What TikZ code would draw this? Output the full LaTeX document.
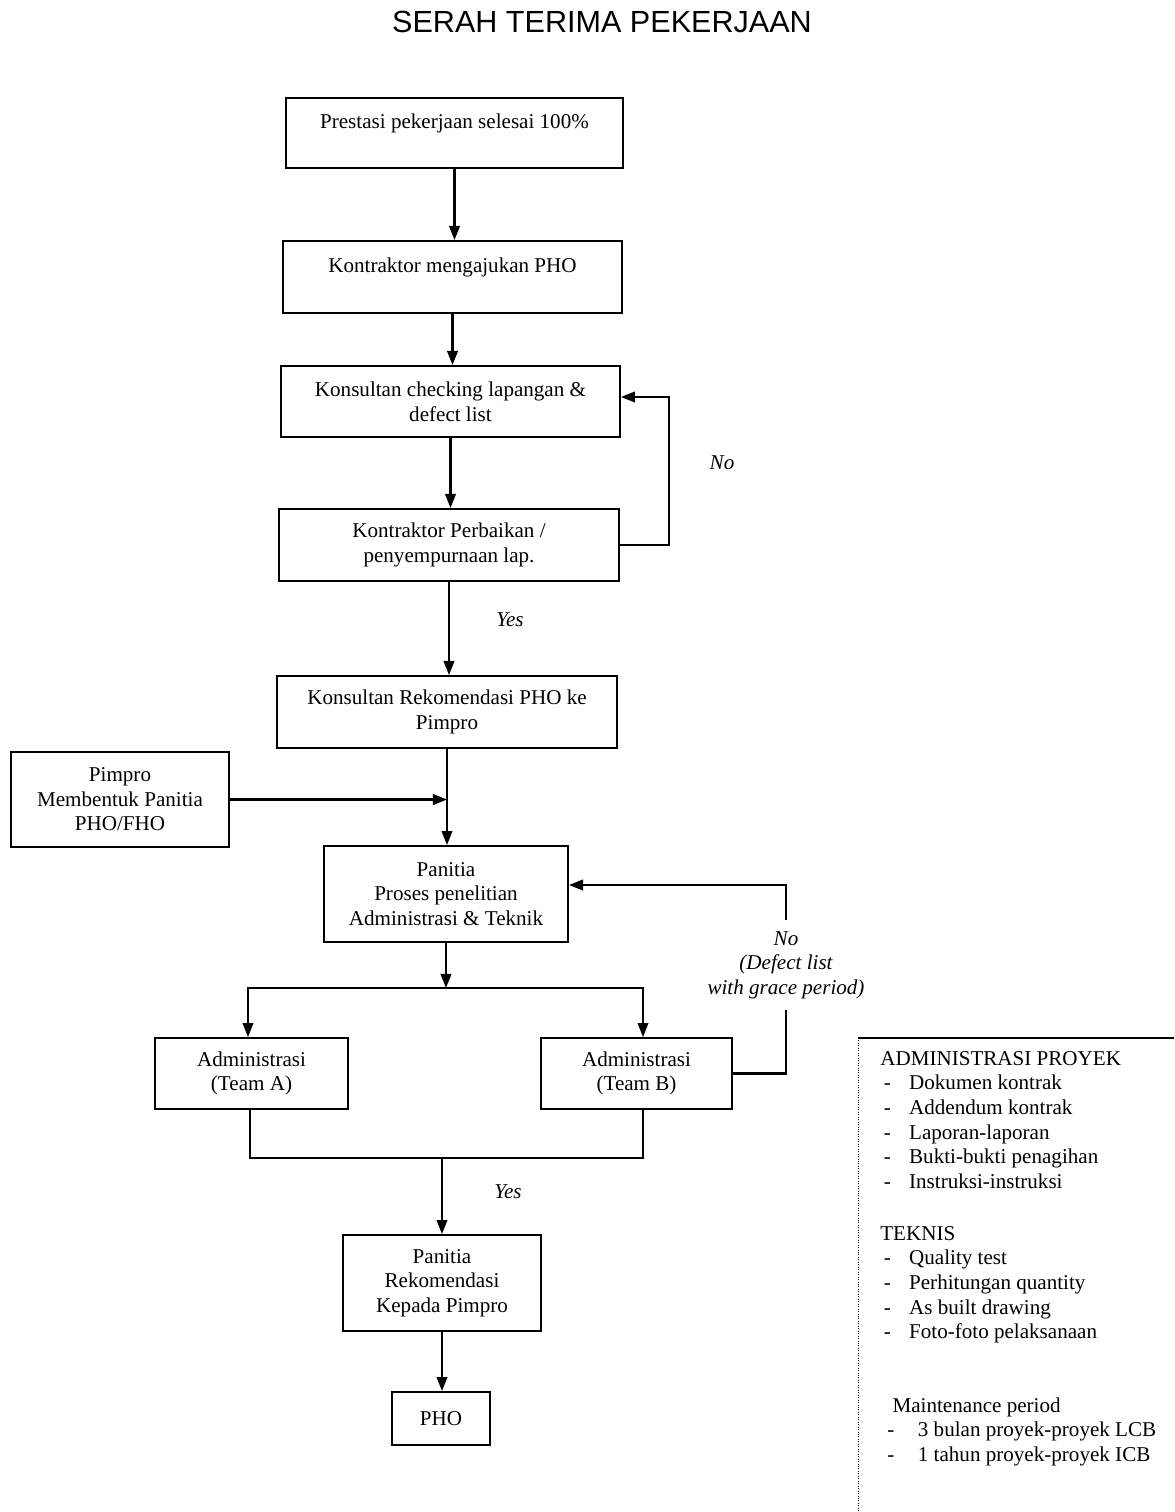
\documentclass[tikz,border=0pt]{standalone}
\usepackage{fontspec}
\setmainfont{Liberation Serif}
\newfontfamily\titlefont{Liberation Sans}
\usetikzlibrary{arrows.meta}

\tikzset{
box/.style={draw,line width=1.1pt,align=center,inner sep=2pt,font=\fontsize{12}{14}\selectfont},
arr/.style={line width=1.2pt,-{Triangle[length=8pt,width=6pt]}},
ln/.style={line width=1.2pt},
lbl/.style={font=\itshape\fontsize{12}{14}\selectfont,align=center},
lst/.style={anchor=north west,align=left,inner sep=0pt,font=\fontsize{12}{14}\selectfont}
}
\newcommand{\itm}{\makebox[1.2em][l]{-}}

\begin{document}
\begin{tikzpicture}[x=0.02cm,y=-0.02cm]
\useasboundingbox (0,0) rectangle (1174,1512);
\node[font=\titlefont\fontsize{17.4}{20}\selectfont] (judul) at (602,22) {SERAH TERIMA PEKERJAAN};

% alur utama
\node[box,minimum width=6.74cm,minimum height=1.4cm] (prestasi) at (454.5,133) {Prestasi pekerjaan selesai 100\%\\\mbox{}};
\node[box,minimum width=6.78cm,minimum height=1.44cm] (ajukan) at (452.5,277) {Kontraktor mengajukan PHO\\\mbox{}};
\node[box,minimum width=6.78cm,minimum height=1.42cm] (checking) at (450.5,401.5) {Konsultan checking lapangan \&\\defect list};
\node[box,minimum width=6.8cm,minimum height=1.44cm] (perbaikan) at (449,545) {Kontraktor Perbaikan /\\penyempurnaan lap.};
\node[box,minimum width=6.8cm,minimum height=1.44cm] (rekomPHO) at (447,712) {Konsultan Rekomendasi PHO ke\\Pimpro};
\node[box,minimum width=4.36cm,minimum height=1.9cm] (pimpro) at (120,799.5) {Pimpro\\Membentuk Panitia\\PHO/FHO};
\node[box,minimum width=4.88cm,minimum height=1.92cm] (panitia) at (446,894) {Panitia\\Proses penelitian\\Administrasi \& Teknik};
\node[box,minimum width=3.86cm,minimum height=1.42cm] (teamA) at (251.5,1073.5) {Administrasi\\(Team A)};
\node[box,minimum width=3.82cm,minimum height=1.42cm] (teamB) at (636.5,1073.5) {Administrasi\\(Team B)};
\node[box,minimum width=3.96cm,minimum height=1.92cm] (rekomPanitia) at (442,1283) {Panitia\\Rekomendasi\\Kepada Pimpro};
\node[box,minimum width=1.96cm,minimum height=1.06cm] (pho) at (441,1418.5) {PHO};

\draw[arr] (prestasi.south) -- (prestasi.south |- ajukan.north);
\draw[arr] (ajukan.south) -- (ajukan.south |- checking.north);
\draw[arr] (checking.south) -- (checking.south |- perbaikan.north);
\draw[arr] (perbaikan.east) -- ++(49,0) |- ([yshift=0.09cm]checking.east);
\node[lbl] (no1) at (722,463) {No};
\draw[arr] (perbaikan.south) -- (perbaikan.south |- rekomPHO.north);
\node[lbl] (yes1) at (510,620) {Yes};
\draw[arr] (rekomPHO.south) -- (rekomPHO.south |- panitia.north);
\draw[arr] (pimpro.east) -- (pimpro.east -| rekomPHO.south);

% cabang team A / team B
\coordinate (split) at (446,988);
\draw[arr] (panitia.south) -- (split);
\draw[arr] (split) -| ([xshift=-0.07cm]teamA.north);
\draw[arr] (split) -| ([xshift=0.13cm]teamB.north);
\node[lbl,inner sep=6pt] (noB) at (786,965) {No\\(Defect list\\with grace period)};
\draw[ln] (teamB.east) -| (noB.south);
\draw[arr] (noB.north) |- ([yshift=0.18cm]panitia.east);

\coordinate (join) at (442,1158);
\draw[ln] ([xshift=-0.03cm]teamA.south) |- (join) -| ([xshift=0.13cm]teamB.south);
\draw[arr] (join) -- (rekomPanitia.north);
\node[lbl] (yes2) at (508,1192) {Yes};
\draw[arr] (rekomPanitia.south) -- (rekomPanitia.south |- pho.north);

% keterangan kanan
\draw[ln] (858,1038) -- (1174,1038);
\draw[densely dotted] (858,1038) -- (858,1512);
\node[lst] (admin) at (880,1051) {ADMINISTRASI PROYEK\\
\hspace*{2pt}\itm Dokumen kontrak\\
\hspace*{2pt}\itm Addendum kontrak\\
\hspace*{2pt}\itm Laporan-laporan\\
\hspace*{2pt}\itm Bukti-bukti penagihan\\
\hspace*{2pt}\itm Instruksi-instruksi};
\node[lst] (teknis) at (880,1226) {TEKNIS\\
\hspace*{2pt}\itm Quality test\\
\hspace*{2pt}\itm Perhitungan quantity\\
\hspace*{2pt}\itm As built drawing\\
\hspace*{2pt}\itm Foto-foto pelaksanaan};
\node[lst] (maint) at (887,1397) {\hspace*{3pt}Maintenance period\\
\makebox[1.45em][l]{-}3 bulan proyek-proyek LCB\\
\makebox[1.45em][l]{-}1 tahun proyek-proyek ICB};
\end{tikzpicture}
\end{document}
